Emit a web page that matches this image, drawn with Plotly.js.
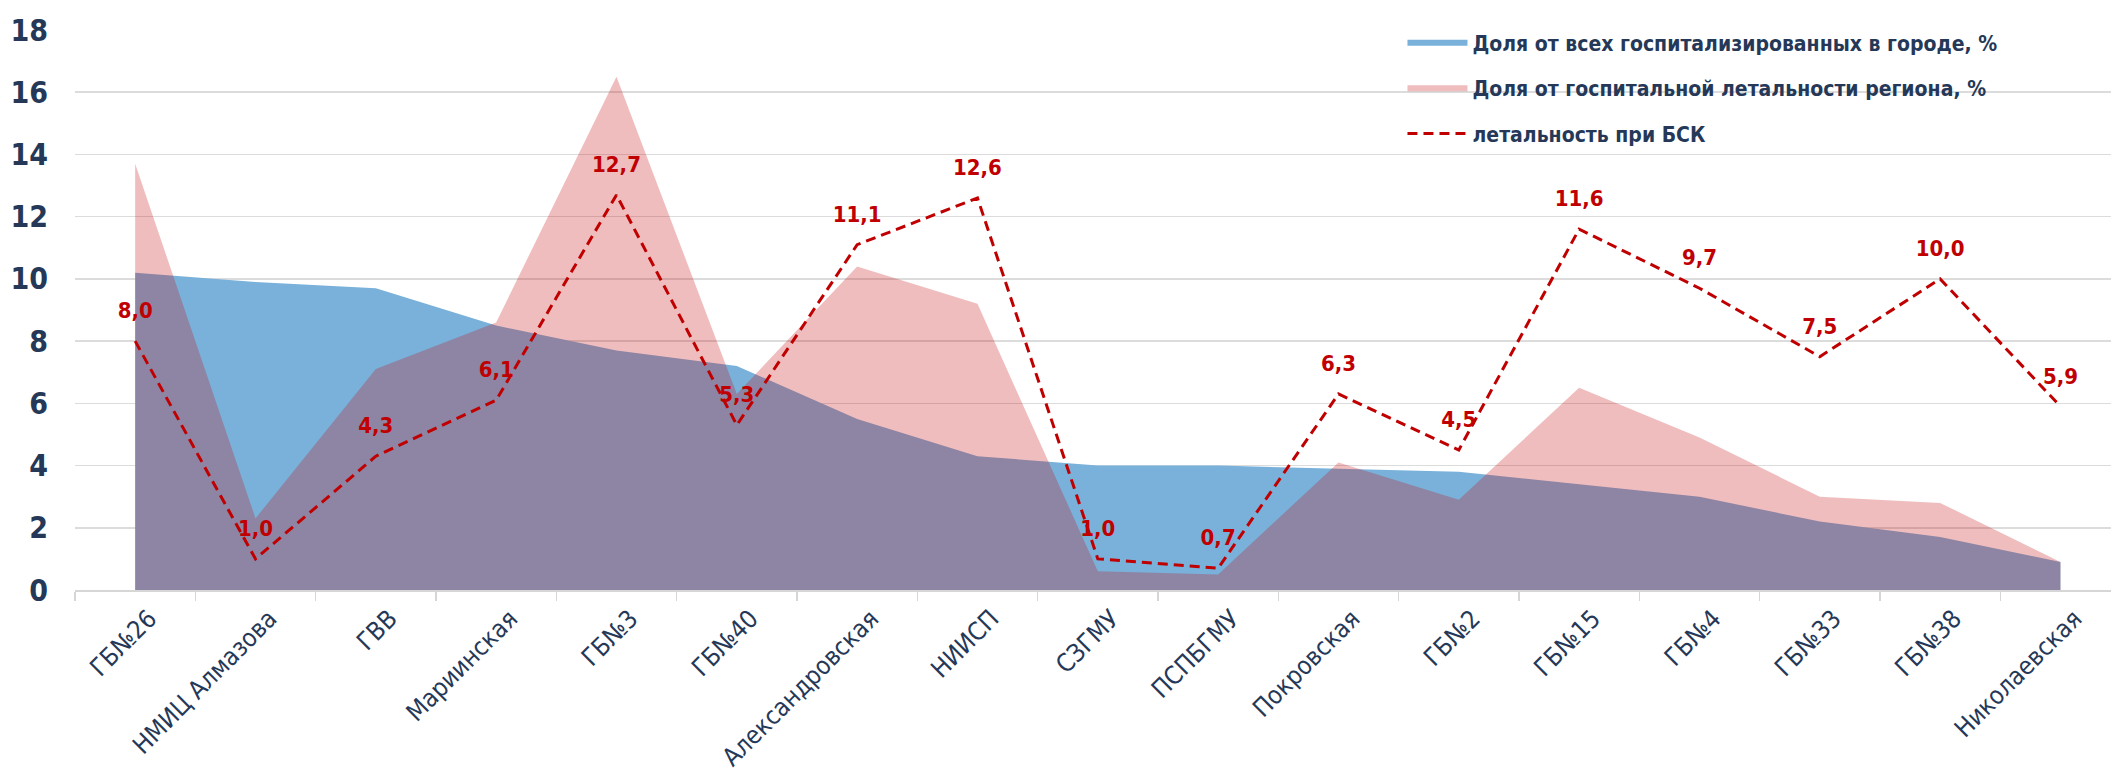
<!DOCTYPE html>
<html>
<head>
<meta charset="utf-8">
<script src="https://cdn.plot.ly/plotly-3.0.1.min.js"></script>
<style>
  html, body { margin: 0; padding: 0; background: #ffffff; }
  #chart { width: 2111px; height: 773px; }
</style>
</head>
<body>
<div id="chart"></div>
<script>
const categories = ["ГБ№26", "НМИЦ Алмазова", "ГВВ", "Мариинская", "ГБ№3", "ГБ№40", "Александровская", "НИИСП", "СЗГМУ", "ПСПБГМУ", "Покровская", "ГБ№2", "ГБ№15", "ГБ№4", "ГБ№33", "ГБ№38", "Николаевская"];
const shareHospitalized = [10.2, 9.9, 9.7, 8.5, 7.7, 7.2, 5.5, 4.3, 4.0, 4.0, 3.9, 3.8, 3.4, 3.0, 2.2, 1.7, 0.9];
const shareMortality = [13.7, 2.3, 7.1, 8.6, 16.5, 6.3, 10.4, 9.2, 0.6, 0.5, 4.1, 2.9, 6.5, 4.9, 3.0, 2.8, 0.9];
const lethalityBSK = [8.0, 1.0, 4.3, 6.1, 12.7, 5.3, 11.1, 12.6, 1.0, 0.7, 6.3, 4.5, 11.6, 9.7, 7.5, 10.0, 5.9];
const yTicks = [0, 2, 4, 6, 8, 10, 12, 14, 16, 18];
const seriesNames = ["Доля от всех госпитализированных в городе, %", "Доля от госпитальной летальности региона, %", "летальность при БСК"];

const NARROW = '"Liberation Sans Narrow", "Arial Narrow", "DejaVu Sans Condensed", sans-serif';
const NAVY = '#253858';
const RED = '#C00000';

const traces = [
  {
    type: 'scatter', x: categories, y: shareHospitalized, name: seriesNames[0],
    mode: 'none', fill: 'tozeroy', fillcolor: 'rgb(121,177,218)',
    legendgroup: 'a', hoverinfo: 'skip'
  },
  {
    type: 'scatter', x: categories, y: shareMortality, name: seriesNames[1],
    mode: 'none', fill: 'tozeroy', fillcolor: 'rgba(198,19,23,0.28)',
    legendgroup: 'b', hoverinfo: 'skip'
  },
  {
    type: 'scatter', x: categories, y: lethalityBSK, name: seriesNames[2],
    mode: 'lines+markers+text',
    line: { color: RED, width: 3, dash: '10px,6px' },
    marker: { size: 26, color: 'rgba(0,0,0,0)', line: { width: 0 } },
    text: lethalityBSK.map(v => v.toFixed(1).replace('.', ',')),
    textposition: 'top center',
    textfont: { family: NARROW, size: 22, color: RED, weight: 'bold' },
    legendgroup: 'c', hoverinfo: 'skip'
  }
];

const layout = {
  width: 2111, height: 773,
  margin: { l: 75, r: 0, t: 30, b: 183 },
  paper_bgcolor: '#ffffff', plot_bgcolor: '#ffffff',
  showlegend: true,
  legend: {
    x: 0.652, y: 1.013, xanchor: 'left', yanchor: 'top',
    bgcolor: 'rgba(0,0,0,0)',
    font: { family: NARROW, size: 21, color: NAVY, weight: 'bold' },
    itemwidth: 60,
    traceorder: 'grouped', tracegroupgap: 15
  },
  xaxis: {
    type: 'category',
    range: [-0.5, 16.42],
    tickangle: -45,
    tickfont: { family: NARROW, size: 25, color: NAVY },
    showgrid: false, zeroline: false,
    showline: true, linecolor: '#D6D6D6', linewidth: 2,
    ticks: 'outside', tickson: 'boundaries', ticklen: 9, tickcolor: '#D6D6D6', tickwidth: 1.5,
    ticklabelshift: 14, ticklabelstandoff: 2
  },
  yaxis: {
    range: [0, 18],
    tickvals: yTicks,
    ticktext: yTicks.map(String),
    tickfont: { family: NARROW, size: 30, color: NAVY, weight: 'bold' },
    showgrid: true, gridcolor: '#DCDCDC', gridwidth: 1.5,
    zeroline: false, showline: false,
    ticklabelstandoff: 26
  }
};

Plotly.newPlot('chart', traces, layout, { staticPlot: true, displayModeBar: false });
</script>
</body>
</html>
